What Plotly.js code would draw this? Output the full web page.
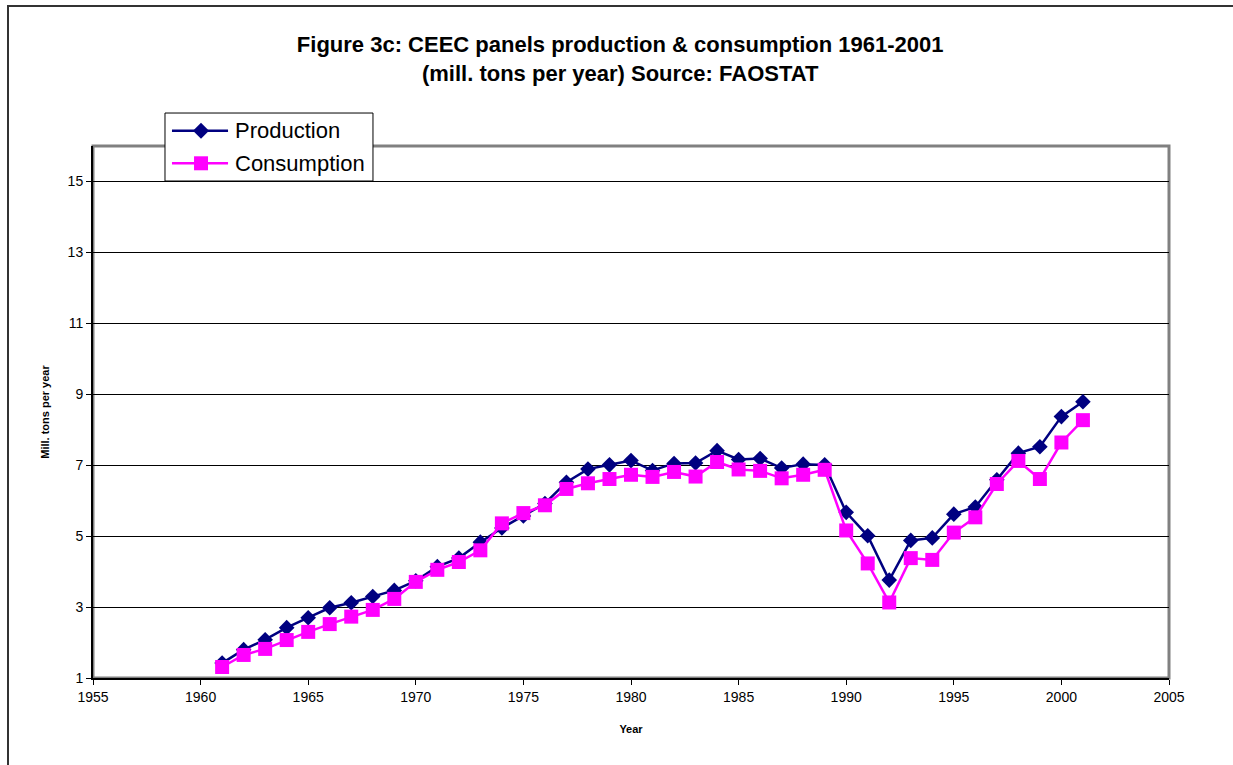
<!DOCTYPE html>
<html>
<head>
<meta charset="utf-8">
<script src="https://cdn.plot.ly/plotly-3.0.1.min.js"></script>
<style>
  html, body { margin: 0; padding: 0; background: #fff; }
  #wrap { position: relative; width: 1233px; height: 765px; overflow: hidden; }
  #chart { width: 1233px; height: 765px; }
  #frame {
    position: absolute; left: 7px; top: 5px; width: 1400px; height: 900px;
    border-left: 2px solid #333; border-top: 2px solid #333;
    pointer-events: none;
  }
</style>
</head>
<body>
<div id="wrap">
  <div id="chart"></div>
  <div id="frame"></div>
</div>
<script>
// Years 1961-2001
const years = [1961,1962,1963,1964,1965,1966,1967,1968,1969,1970,
               1971,1972,1973,1974,1975,1976,1977,1978,1979,1980,
               1981,1982,1983,1984,1985,1986,1987,1988,1989,1990,
               1991,1992,1993,1994,1995,1996,1997,1998,1999,2000,2001];

// Panels production, mill. tons per year
const production = [1.42,1.80,2.08,2.42,2.70,2.98,3.12,3.30,3.47,3.74,
                    4.14,4.38,4.83,5.23,5.57,5.92,6.52,6.89,7.01,7.13,
                    6.85,7.05,7.06,7.41,7.16,7.19,6.92,7.03,7.01,5.67,
                    5.01,3.76,4.88,4.95,5.62,5.82,6.59,7.34,7.52,8.37,8.79];

// Panels consumption, mill. tons per year
const consumption = [1.31,1.65,1.82,2.07,2.30,2.52,2.73,2.92,3.23,3.71,
                     4.05,4.27,4.60,5.36,5.65,5.87,6.33,6.49,6.61,6.73,
                     6.67,6.81,6.68,7.09,6.88,6.84,6.63,6.73,6.87,5.16,
                     4.23,3.13,4.38,4.33,5.10,5.53,6.47,7.12,6.61,7.64,8.27];

const xTicks = [1955,1960,1965,1970,1975,1980,1985,1990,1995,2000,2005];
const yTicks = [1,3,5,7,9,11,13,15];

const seriesNames = ['Production', 'Consumption'];
const seriesColors = ['#000080', '#FF00FF'];

const baseFont = 'Arial, "Liberation Sans", sans-serif';

const traces = [
  {
    x: years, y: production, name: seriesNames[0],
    type: 'scatter', mode: 'lines+markers',
    line: {color: seriesColors[0], width: 2.5},
    marker: {symbol: 'diamond', size: 12, color: seriesColors[0]}
  },
  {
    x: years, y: consumption, name: seriesNames[1],
    type: 'scatter', mode: 'lines+markers',
    line: {color: seriesColors[1], width: 2.5},
    marker: {symbol: 'square', size: 14, color: seriesColors[1]}
  }
];

// Boxed key in the upper-left corner, straddling the top of the plot frame
const key = {x0: 0.0669, x1: 0.2602, y0: 0.9342, y1: 1.0620,
             rows: [1.0288, 0.9675], lineX0: 0.0734, lineX1: 0.1255,
             symX: 0.1004, textX: 0.1301};
const keyPaths = [
  'M-8,0L0,8L8,0L0,-8Z',          // diamond
  'M-7,-7L7,-7L7,7L-7,7Z'         // square
];

const shapes = [
  {type: 'rect', xref: 'paper', yref: 'paper', x0: 0, x1: 1, y0: 0, y1: 1,
   line: {color: '#808080', width: 3}, layer: 'below'},
  {type: 'rect', xref: 'paper', yref: 'paper',
   x0: key.x0, x1: key.x1, y0: key.y0, y1: key.y1,
   fillcolor: '#fff', line: {color: '#000', width: 1}, layer: 'above'}
];
const annotations = [];
seriesNames.forEach((name, i) => {
  const yy = key.rows[i];
  shapes.push({type: 'line', xref: 'paper', yref: 'paper',
    x0: key.lineX0, x1: key.lineX1, y0: yy, y1: yy,
    line: {color: seriesColors[i], width: 2.5}, layer: 'above'});
  shapes.push({type: 'path', xref: 'paper', yref: 'paper',
    xsizemode: 'pixel', ysizemode: 'pixel', xanchor: key.symX, yanchor: yy,
    path: keyPaths[i], fillcolor: seriesColors[i],
    line: {color: seriesColors[i], width: 0}, layer: 'above'});
  annotations.push({xref: 'paper', yref: 'paper', x: key.textX, y: yy,
    xanchor: 'left', yanchor: 'middle', showarrow: false, text: name,
    font: {family: baseFont, size: 22, color: '#000'}});
});

const layout = {
  width: 1233, height: 765,
  margin: {l: 93, r: 64, t: 146, b: 87},
  paper_bgcolor: 'rgba(0,0,0,0)',
  plot_bgcolor: '#fff',
  font: {family: baseFont, color: '#000'},
  showlegend: false,
  title: {
    text: '<b>Figure 3c: CEEC panels production & consumption 1961-2001<br>(mill. tons per year) Source: FAOSTAT</b>',
    font: {family: baseFont, size: 22, color: '#000'},
    x: 0.503, xref: 'container', xanchor: 'center',
    y: 1 - 52 / 765, yref: 'container', yanchor: 'top'
  },
  xaxis: {
    range: [1955, 2005],
    tickmode: 'array', tickvals: xTicks, ticktext: xTicks.map(String),
    ticks: 'outside', ticklen: 5, tickwidth: 1, tickcolor: '#000',
    showgrid: false, zeroline: false,
    showline: true, linecolor: '#000', linewidth: 2,
    tickfont: {family: baseFont, size: 14, color: '#000'},
    title: {text: '<b>Year</b>', font: {family: baseFont, size: 11, color: '#000'}, standoff: 22}
  },
  yaxis: {
    range: [1, 16],
    tickmode: 'array', tickvals: yTicks, ticktext: yTicks.map(String),
    ticks: 'outside', ticklen: 5, tickwidth: 1, tickcolor: '#000',
    showgrid: true, gridcolor: '#000', gridwidth: 1,
    zeroline: false,
    showline: true, linecolor: '#000', linewidth: 2,
    tickfont: {family: baseFont, size: 14, color: '#000'},
    title: {text: '<b>Mill. tons per year</b>', font: {family: baseFont, size: 11, color: '#000'}, standoff: 16}
  },
  shapes: shapes,
  annotations: annotations
};

Plotly.newPlot('chart', traces, layout, {displayModeBar: false, staticPlot: true});
</script>
</body>
</html>
